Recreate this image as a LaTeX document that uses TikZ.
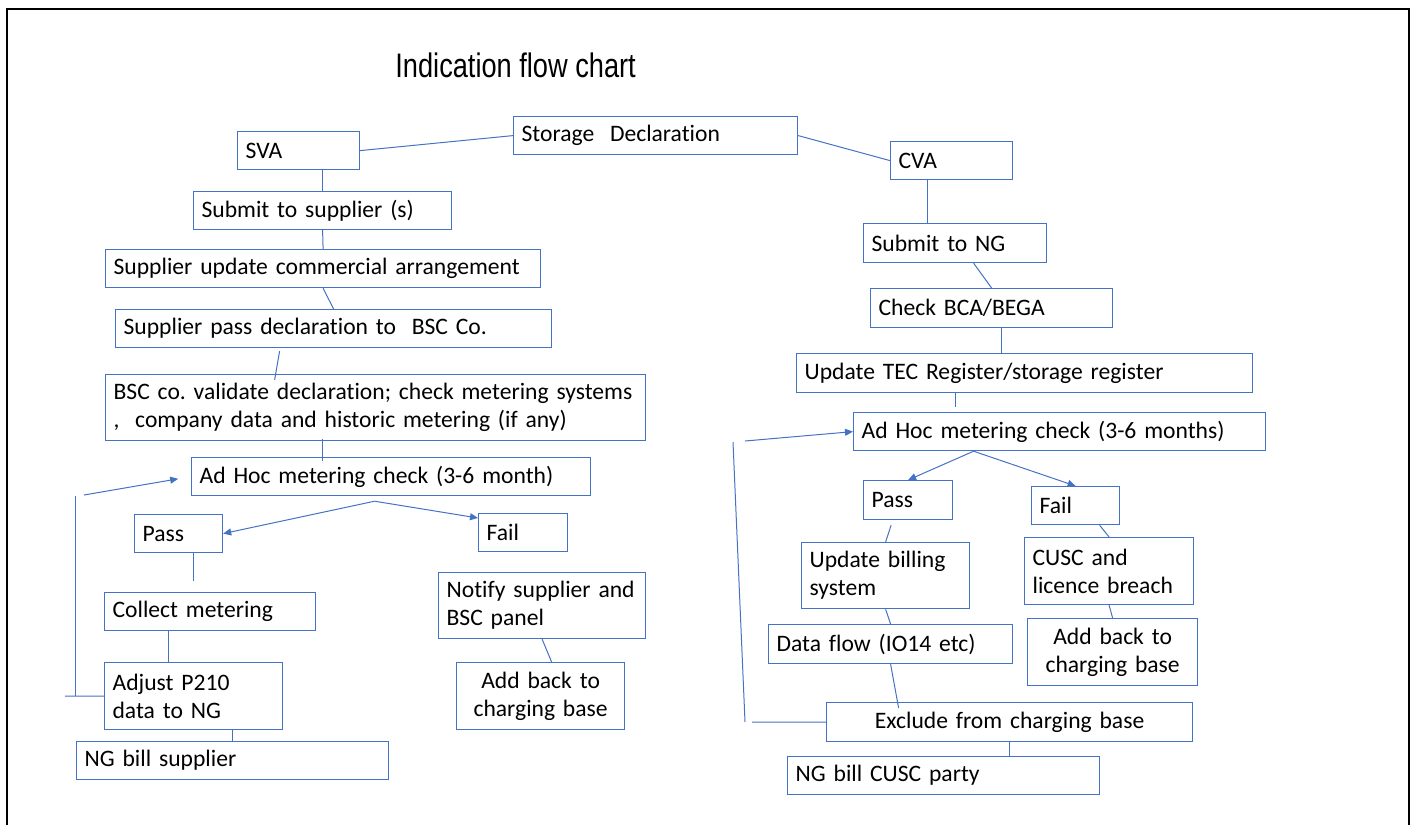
\documentclass[tikz,border=0pt]{standalone}
\usepackage{fontspec}
\setmainfont[RawFeature={-liga}]{Carlito}
\newfontfamily\titlefont[FakeStretch=0.8]{Liberation Sans}
\usepackage{tikz}
\usetikzlibrary{calc}
\usetikzlibrary{arrows.meta}
\frenchspacing
\hyphenpenalty=10000
\exhyphenpenalty=10000
\definecolor{officeblue}{HTML}{4472C4}
\tikzset{
	boxstyle/.style={rectangle,draw=officeblue,line width=0.6pt,anchor=north west,align=left,inner xsep=4pt,inner ysep=0pt,font=\fontsize{11.8pt}{14pt}\selectfont},
	midboxstyle/.style={boxstyle,align=center},
	linestyle/.style={draw=officeblue,line width=0.5pt},
	arrowstyle/.style={linestyle,-{Triangle[length=4pt,width=3.5pt]}},
	framestyle/.style={draw=black,line width=1.2pt}
}
\begin{document}
\begin{tikzpicture}[x=0.5pt,y=-0.5pt]
		\useasboundingbox (0,0) rectangle (1411,825);
		\draw[framestyle] (7,825) -- (7,9) -- (1409,9) -- (1409,825);
		\node[anchor=base west,inner sep=0pt,font=\titlefont\fontsize{17pt}{20pt}\selectfont] (title) at (395,77) {Indication flow chart};
		\node[boxstyle,text width=134pt,minimum height=19pt] (decl) at (513,116) {Storage~ Declaration};
		\node[boxstyle,text width=53pt,minimum height=19pt] (sva) at (237,131) {SVA};
		\node[boxstyle,text width=121pt,minimum height=19pt] (sub) at (193,191) {Submit to supplier (s)};
		\node[boxstyle,text width=209.5pt,minimum height=19pt] (upd) at (105,249) {Supplier update commercial arrangement};
		\node[boxstyle,text width=210pt,minimum height=19pt] (pdecl) at (115,309) {Supplier pass declaration to~ BSC Co.};
		\node[boxstyle,text width=262pt,minimum height=33pt] (valid) at (105,374) {BSC co. validate declaration; check metering systems\\,~ company data and historic metering (if any)};
		\node[boxstyle,text width=191.5pt,minimum height=19pt] (adhocl) at (191,457) {Ad Hoc metering check (3-6 month)};
		\node[boxstyle,text width=36pt,minimum height=19pt] (passl) at (134,514) {Pass};
		\node[boxstyle,text width=36.5pt,minimum height=19pt] (faill) at (478,513) {Fail};
		\node[boxstyle,text width=97.5pt,minimum height=19pt] (collect) at (104,592) {Collect metering};
		\node[boxstyle,text width=81pt,minimum height=33.5pt] (adjust) at (104,662) {Adjust P210\\data to NG};
		\node[boxstyle,text width=148pt,minimum height=19pt] (billl) at (76,741) {NG bill supplier};
		\node[boxstyle,text width=95.5pt,minimum height=33pt] (notify) at (438,572) {Notify supplier and\\BSC panel};
		\node[midboxstyle,text width=76pt,minimum height=33.5pt] (addl) at (456,662) {Add back to\\charging base};
		\node[boxstyle,text width=53pt,minimum height=19pt] (cva) at (890,141) {CVA};
		\node[boxstyle,text width=83.5pt,minimum height=19.5pt] (subng) at (863,223) {Submit to NG};
		\node[boxstyle,text width=113pt,minimum height=19.5pt] (bca) at (870,288) {Check BCA/BEGA};
		\node[boxstyle,text width=220pt,minimum height=19.5pt] (tec) at (796,353) {Update TEC Register/storage register};
		\node[boxstyle,text width=198pt,minimum height=19pt] (adhocr) at (853,412) {Ad Hoc metering check (3-6 months)};
		\node[boxstyle,text width=36.5pt,minimum height=19.5pt] (passr) at (863,480) {Pass};
		\node[boxstyle,text width=36pt,minimum height=19pt] (failr) at (1031,486) {Fail};
		\node[boxstyle,text width=76pt,minimum height=33pt] (billing) at (801,542) {Update billing\\system};
		\node[boxstyle,text width=76.5pt,minimum height=33.5pt] (cusc) at (1024,537) {CUSC and\\licence breach};
		\node[boxstyle,text width=114pt,minimum height=19.5pt] (flow) at (768,624) {Data flow (IO14 etc)};
		\node[midboxstyle,text width=77pt,minimum height=33.5pt] (addr) at (1027,618) {Add back to\\charging base};
		\node[midboxstyle,text width=175pt,minimum height=19.5pt] (excl) at (826,702) {Exclude from charging base};
		\node[boxstyle,text width=148pt,minimum height=19pt] (billr) at (787,756) {NG bill CUSC party};
		\coordinate (splitl) at ($(adhocl.south)+(-16.5,5)$);
		\coordinate (splitr) at ($(adhocr.south)+(-86,0)$);
		\coordinate (loopl) at (75,496);
		\coordinate (cornerl) at (75,696);
		\coordinate (stubl) at (65,696);
		\coordinate (taill) at (84,495);
		\coordinate (loopr) at (733,442);
		\coordinate (cornerr) at (745,722);
		\coordinate (stubr) at (752,722);
		\coordinate (tailr) at (745,441);
		\draw[linestyle] (sva.east)--(decl.west);
		\draw[linestyle] (sva.south -| sub.north)--(sub.north);
		\draw[linestyle] (sub.south)--(upd.north);
		\draw[linestyle] (upd.south)--(pdecl.north);
		\draw[linestyle] ($(pdecl.south)+(-54,3)$)--($(valid.north)+(-101,6)$);
		\draw[linestyle] ($(valid.south)+(-53,-2)$)--($(adhocl.north)+(-68.5,4)$);
		\draw[arrowstyle] (splitl)--(passl.east);
		\draw[arrowstyle] (splitl)--($(faill.north west)+(0,5)$);
		\draw[linestyle] ($(passl.south)+(15,0)$)--($(collect.north)+(-16.5,-11)$);
		\draw[linestyle] ($(collect.south)+(-41.5,0)$)--($(adjust.north)+(-25,0)$);
		\draw[linestyle] (adjust.south -| billl.north)--(billl.north);
		\draw[linestyle] (notify.south)--($(addl.north)+(11,0)$);
		\draw[linestyle] (loopl)--(cornerl);
		\draw[linestyle] (stubl)--(adjust.west);
		\draw[arrowstyle,shorten >=6.5pt] (taill)--(adhocl.west);
		\draw[linestyle] (decl.east)--(cva.west);
		\draw[linestyle] ($(cva.south)+(-24,0)$)--($(subng.north)+(-27.5,0)$);
		\draw[linestyle] ($(subng.south)+(18.5,0)$)--(bca.north);
		\draw[linestyle] ($(bca.south)+(10,0)$)--($(tec.north)+(-23,0)$);
		\draw[linestyle] ($(tec.south)+(-69,0)$)--($(adhocr.north)+(-104,-5)$);
		\draw[arrowstyle] (splitr)--(passr.north);
		\draw[arrowstyle] (splitr)--(failr.north);
		\draw[linestyle] ($(passr.south)+(-17,5)$)--(billing.north);
		\draw[linestyle] ($(failr.south)+(24,0)$)--(cusc.north);
		\draw[linestyle] (billing.south)--(flow.north);
		\draw[linestyle] (cusc.south)--(addr.north);
		\draw[linestyle] (flow.south)--($(excl.north)+(-111,6)$);
		\draw[linestyle] (excl.south)--(excl.south |- billr.north);
		\draw[linestyle] (loopr)--(cornerr);
		\draw[linestyle] (stubr)--(excl.west);
		\draw[arrowstyle] (tailr)--(adhocr.west);
		\end{tikzpicture}
\end{document}
